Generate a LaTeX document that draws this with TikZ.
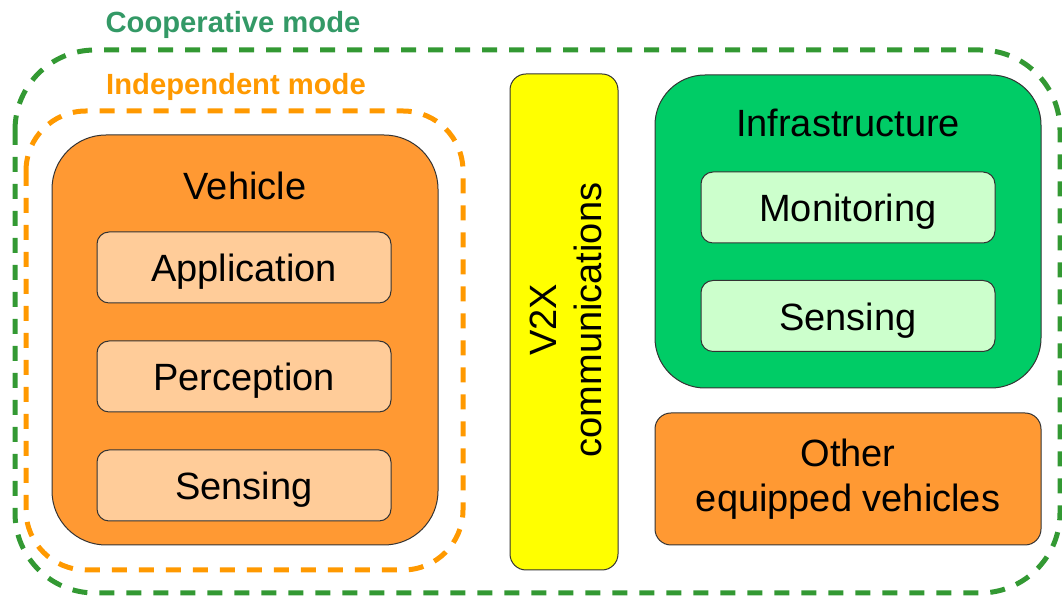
\documentclass[tikz,border=0pt]{standalone}
\usepackage{fontspec}
\setmainfont{Liberation Sans}
\usepackage{xcolor}
\usepackage{tikz}
\usetikzlibrary{positioning}
\definecolor{vehorange}{HTML}{FF9933}
\definecolor{lightorange}{HTML}{FFCC99}
\definecolor{infragreen}{HTML}{00CC66}
\definecolor{lightgreen}{HTML}{CCFFCC}
\definecolor{linkyellow}{HTML}{FFFF00}
\definecolor{coopgreen}{HTML}{339933}
\definecolor{cooptext}{HTML}{339966}
\definecolor{indorange}{HTML}{FF9900}
\definecolor{edge}{HTML}{333333}

\begin{document}
\begin{tikzpicture}[x=0.5pt, y=-0.5pt,
  bigfont/.style={font=\fontsize{19}{22.5}\selectfont},
  modelabel/.style={font=\fontsize{14.6}{16}\selectfont\bfseries},
  box/.style={draw=edge, line width=0.5pt, inner sep=0pt, bigfont},
  mainbox/.style={box, rounded corners=27pt, minimum width=193pt},
  subbox/.style={box, rounded corners=6pt, minimum width=147pt, minimum height=35.5pt, text height=14.5pt, text depth=0pt},
  modeframe/.style={line width=2.5pt, dash pattern=on 7.5pt off 6pt}]
\useasboundingbox (0,0) rectangle (1062,597);
% mode frames
\draw[modeframe, coopgreen, rounded corners=40pt] (15,50) rectangle (1060,593);
\node[modelabel, text=cooptext] (coop) at (233,25) {Cooperative mode};
\draw[modeframe, indorange, rounded corners=30pt] (26,111) rectangle (463,570);
\node[modelabel, text=indorange] (indep) at (236,87) {Independent mode};
% vehicle
\node[mainbox, fill=vehorange, minimum height=205pt] (vehicle) at (245,340) {};
\node[bigfont] (vehlabel) at (245,186) {Vehicle};
\node[subbox, fill=lightorange] (app) at (244,267.5) {Application};
\node[subbox, fill=lightorange] (perc) at (244,376.5) {Perception};
\node[subbox, fill=lightorange] (vsens) at (244,485.5) {Sensing};
% V2X
\node[box, fill=linkyellow, rounded corners=8pt, minimum width=54pt, minimum height=248pt] (v2x) at (564,322) {};
\node[bigfont, rotate=90, align=center] (v2xlabel) at (566,320) {V2X\\communications};
% infrastructure
\node[mainbox, fill=infragreen, rounded corners=25pt, minimum height=156.5pt] (infra) at (848,231.5) {};
\node[bigfont] (infralabel) at (848,123) {Infrastructure};
\node[subbox, fill=lightgreen] (mon) at (848,207.5) {Monitoring};
\node[subbox, fill=lightgreen] (isens) at (848,316) {Sensing};
% other vehicles
\node[mainbox, fill=vehorange, rounded corners=8pt, minimum height=66pt, align=center] (other) at (848,479) {Other\\equipped vehicles};
\end{tikzpicture}
\end{document}
